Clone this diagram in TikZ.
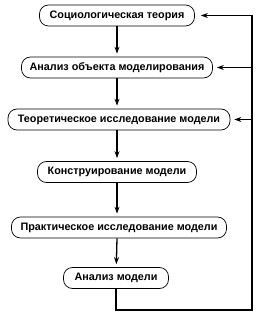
\documentclass[tikz,border=0pt]{standalone}
\usepackage{fontspec}
\setmainfont{Liberation Sans}
\usetikzlibrary{arrows.meta}
\tikzset{
  etap/.style={draw, line width=0.7pt, rounded corners=9pt, minimum height=21pt,
    inner xsep=4pt, font=\fontsize{10.8}{12}\selectfont\bfseries},
  pijl/.style={-{Stealth[length=7pt,width=5pt]}, line width=1.3pt}
}
\begin{document}
\begin{tikzpicture}[x=1pt, y=-1pt]
  \useasboundingbox (0,0) rectangle (259,315);

  % Etappes van het modelleren
  \node[etap, minimum width=155pt] (soc)  at (117,15.5)  {Социологическая теория};
  \node[etap, minimum width=191pt] (anob) at (117,67.5)  {Анализ объекта моделирования};
  \node[etap, minimum width=222pt] (teor) at (119,119.5) {Теоретическое исследование модели};
  \node[etap, minimum width=159pt] (kon)  at (117,172)   {Конструирование модели};
  \node[etap, minimum width=215pt] (prak) at (119,227.5) {Практическое исследование модели};
  \node[etap, minimum width=105pt] (anm)  at (116,278)   {Анализ модели};

  % Hoofdlijn
  \draw[pijl, shorten >=3pt] (soc) -- (anob);
  \draw[pijl, shorten >=3pt] (anob) -- (anob |- teor.north);
  \draw[pijl, shorten >=3pt] (teor.south -| anob) -- (anob |- kon.north);
  \draw[pijl, shorten >=3pt] (kon) -- (kon |- prak.north);
  \draw[pijl, shorten >=3pt] (prak.south -| kon) -- (anm);

  % Terugkoppeling
  \coordinate (onder) at (116,310);
  \coordinate (rechtsonder) at (252,310);
  \coordinate (r1) at (252,15.5);
  \coordinate (r2) at (252,67.5);
  \coordinate (r3) at (252,119.5);
  \draw[line width=1.6pt] (anm.south) -- (onder) -- (rechtsonder) -- (r1);
  \draw[pijl, shorten >=6pt] (r1) -- (soc.east);
  \draw[pijl, shorten >=4pt] (r2) -- (anob.east);
  \draw[pijl, shorten >=4pt] (r3) -- (teor.east);

\end{tikzpicture}
\end{document}
